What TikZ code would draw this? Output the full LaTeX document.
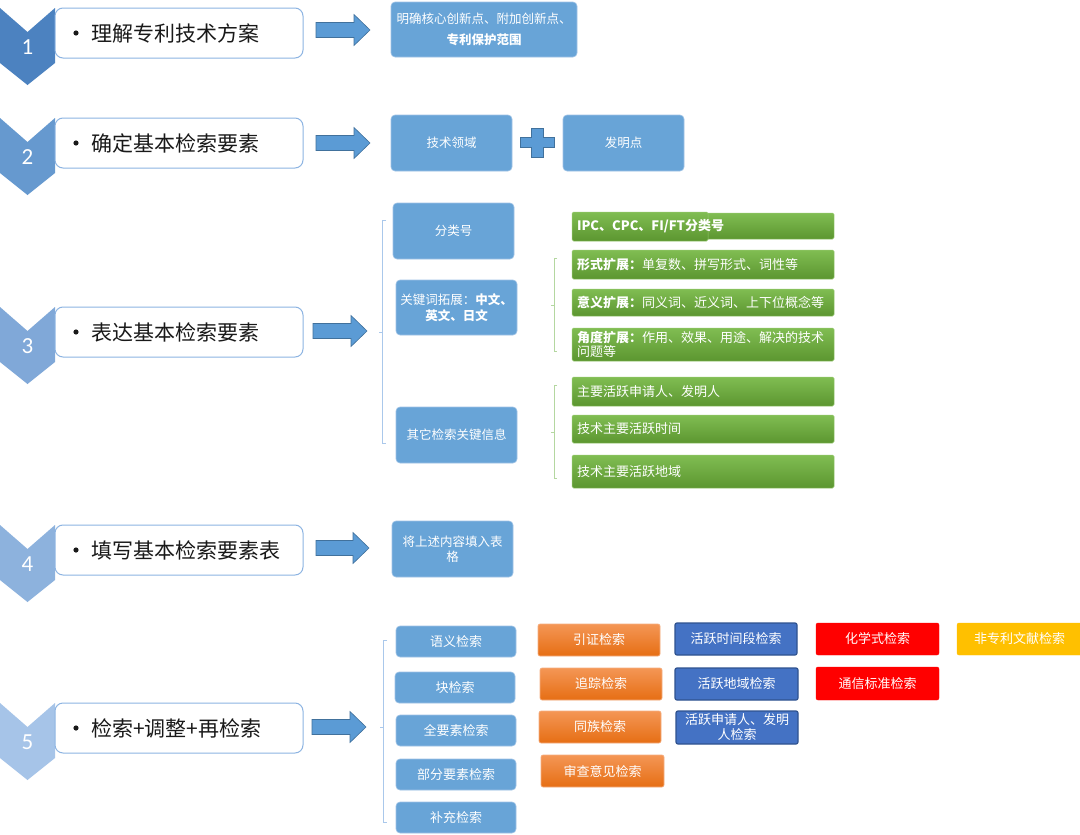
\documentclass[tikz,border=0pt]{standalone}
\usepackage{fontspec}
\setmainfont{Noto Sans CJK SC}
\newfontfamily\numfont{Carlito}
\definecolor{c1}{RGB}{76,130,192}
\definecolor{c2}{RGB}{102,153,207}
\definecolor{c3}{RGB}{128,168,216}
\definecolor{c4}{RGB}{141,178,221}
\definecolor{c5}{RGB}{166,196,232}
\definecolor{mainedge}{RGB}{141,180,226}
\definecolor{lblue}{RGB}{104,164,215}
\definecolor{lblueedge}{RGB}{160,195,230}
\definecolor{arrfill}{RGB}{91,155,213}
\definecolor{arredge}{RGB}{65,113,156}
\definecolor{gtop}{RGB}{128,189,82}
\definecolor{gbot}{RGB}{92,150,48}
\definecolor{gedge}{RGB}{150,200,110}
\definecolor{lbrk}{RGB}{170,200,235}
\definecolor{gbrkc}{RGB}{180,215,160}
\definecolor{otop}{RGB}{244,150,85}
\definecolor{obot}{RGB}{230,110,20}
\definecolor{oedge}{RGB}{245,175,130}
\definecolor{dblue}{RGB}{68,114,196}
\definecolor{dbedge}{RGB}{47,82,143}
\definecolor{ylw}{RGB}{255,192,0}
\definecolor{rd}{RGB}{255,0,0}
\newcommand\rbox[7]{\node[#6,minimum width={#4pt-#2pt},minimum height={#5pt-#3pt}] (#1) at ({(#2+#4)/2},{(#3+#5)/2}) {#7};}
\newcommand\chevron[4]{%
  \fill[#3] (0,#2) -- (27.5,{#2+24}) -- (55,#2) -- (55,{#2+55}) -- (27.5,{#2+77}) -- (0,{#2+55}) -- cycle;
  \node[numtxt] (#1) at (27.5,{#2+39}) {#4};}
\newcommand\blockarrow[3]{%
  \draw[barrow] (#1,{#3-7.5}) -- ({#2-16},{#3-7.5}) -- ({#2-16},{#3-15.5}) -- (#2,#3) -- ({#2-16},{#3+15.5}) -- ({#2-16},{#3+7.5}) -- (#1,{#3+7.5}) -- cycle;}
\begin{document}
\begin{tikzpicture}[x=1pt,y=-1pt,
 mainbox/.style={draw=mainedge,line width=1pt,fill=white,rounded corners=8pt,inner sep=0pt},
 bluebox/.style={fill=lblue,draw=lblueedge,line width=0.6pt,rounded corners=4pt,inner sep=1pt,text=white,align=center,font=\fontsize{12.5}{15}\selectfont},
 greenbar/.style={top color=gtop,bottom color=gbot,draw=gedge,line width=0.5pt,rounded corners=1.5pt,inner xsep=5pt,inner ysep=0pt,text=white,align=left,text width=252pt,font=\fontsize{13}{14}\selectfont},
 orbox/.style={top color=otop,bottom color=obot,draw=oedge,line width=0.6pt,rounded corners=2pt,text=white,align=center,font=\fontsize{13}{15}\selectfont,inner sep=1pt},
 dbbox/.style={fill=dblue,draw=dbedge,line width=1.2pt,rounded corners=2pt,text=white,align=center,font=\fontsize{13}{15}\selectfont,inner sep=1pt},
 redbox/.style={fill=rd,draw=rd,rounded corners=2pt,text=white,align=center,font=\fontsize{13}{15}\selectfont,inner sep=1pt},
 ylbox/.style={fill=ylw,draw=ylw,rounded corners=2pt,text=white,align=center,font=\fontsize{13}{15}\selectfont,inner sep=1pt},
 barrow/.style={fill=arrfill,draw=arredge,line width=0.6pt},
 brk/.style={draw=lbrk,line width=0.8pt},
 gbrk/.style={draw=gbrkc,line width=0.8pt},
 numtxt/.style={text=white,font=\numfont\fontsize{23}{23}\selectfont,inner sep=0pt},
 maintxt/.style={anchor=west,font=\fontsize{21}{24}\selectfont,text=black!90,inner sep=0pt}
]
\useasboundingbox[fill=white] (0,0) rectangle (1080,835);

% ---- chevrons and main boxes
\chevron{n1}{8}{c1}{1}
\chevron{n2}{118}{c2}{2}
\chevron{n3}{307}{c3}{3}
\chevron{n4}{525}{c4}{4}
\chevron{n5}{703}{c5}{5}

\rbox{b1}{55}{8}{303}{58}{mainbox}{}
\rbox{b2}{55}{118}{303}{168}{mainbox}{}
\rbox{b3}{55}{307}{303}{357}{mainbox}{}
\rbox{b4}{55}{525}{303}{575}{mainbox}{}
\rbox{b5}{55}{703}{303}{753}{mainbox}{}

\foreach \yy in {33,143,332,550,728} {\fill[black!90] (76,\yy) circle (2.6);}
\node[maintxt] (t1) at (91,33) {理解专利技术方案};
\node[maintxt] (t2) at (91,143) {确定基本检索要素};
\node[maintxt] (t3) at (91,332) {表达基本检索要素};
\node[maintxt] (t4) at (91,550) {填写基本检索要素表};
\node[maintxt] (t5) at (91,728) {检索+调整+再检索};

% ---- block arrows
\blockarrow{316}{370}{30}
\blockarrow{316}{370}{143}
\blockarrow{313}{367}{331}
\blockarrow{316}{369}{548}
\blockarrow{312}{366}{727}

% ---- row 1
\rbox{r1}{391}{2}{577}{57}{bluebox,font=\fontsize{12.5}{21}\selectfont}{明确核心创新点、附加创新点、\\\textbf{专利保护范围}}

% ---- row 2
\rbox{r2a}{391}{115}{512}{171}{bluebox}{技术领域}
\draw[barrow] (531.5,128) -- (543,128) -- (543,137.5) -- (554,137.5) -- (554,147.5) -- (543,147.5) -- (543,157) -- (531.5,157) -- (531.5,147.5) -- (520,147.5) -- (520,137.5) -- (531.5,137.5) -- cycle;
\rbox{r2b}{563}{115}{684}{171}{bluebox}{发明点}

% ---- row 3
\draw[brk] (386,220) -- (382,220) -- (382,443) -- (386,443);
\draw[brk] (382,332) -- (379,332);
\rbox{k1}{393}{203}{514}{259}{bluebox}{分类号}
\rbox{k2}{396}{280}{517}{335}{bluebox,font=\fontsize{12.5}{16}\selectfont}{关键词拓展：\textbf{中文、}\\\textbf{英文、日文}}
\rbox{k3}{396}{407}{517}{463}{bluebox}{其它检索关键信息}

\draw[gbrk] (557,258) -- (554,258) -- (554,351) -- (557,351);
\draw[gbrk] (554,305) -- (551,305);
\draw[gbrk] (557,385) -- (554,385) -- (554,478) -- (557,478);
\draw[gbrk] (554,432) -- (551,432);

\rbox{g1b}{700}{213}{834}{239}{greenbar,text width=120pt}{}
\rbox{g1}{572}{212}{708}{241}{greenbar,text width=126pt}{\textbf{IPC、CPC、FI/FT分类号}}
\rbox{g2}{572}{250}{834}{279}{greenbar}{\textbf{形式扩展：}单复数、拼写形式、词性等}
\rbox{g3}{572}{289}{834}{316}{greenbar}{\textbf{意义扩展：}同义词、近义词、上下位概念等}
\rbox{g4}{572}{328}{834}{361}{greenbar}{\textbf{角度扩展：}作用、效果、用途、解决的技术\\问题等}
\rbox{g5}{572}{377}{834}{406}{greenbar}{主要活跃申请人、发明人}
\rbox{g6}{572}{415}{834}{443}{greenbar}{技术主要活跃时间}
\rbox{g7}{572}{455}{834}{488}{greenbar}{技术主要活跃地域}

% ---- row 4
\rbox{r4}{392}{521}{513}{577}{bluebox}{将上述内容填入表\\格}

% ---- row 5
\draw[brk] (387,640) -- (383,640) -- (383,822) -- (387,822);
\draw[brk] (383,727) -- (380,727);
\rbox{s1}{396}{626}{516}{657}{bluebox,font=\fontsize{13}{15}\selectfont}{语义检索}
\rbox{s2}{395}{672}{515}{703}{bluebox,font=\fontsize{13}{15}\selectfont}{块检索}
\rbox{s3}{396}{715}{516}{746}{bluebox,font=\fontsize{13}{15}\selectfont}{全要素检索}
\rbox{s4}{396}{759}{516}{790}{bluebox,font=\fontsize{13}{15}\selectfont}{部分要素检索}
\rbox{s5}{396}{802}{516}{833}{bluebox,font=\fontsize{13}{15}\selectfont}{补充检索}

\rbox{o1}{538}{624}{660}{656}{orbox}{引证检索}
\rbox{o2}{540}{668}{662}{700}{orbox}{追踪检索}
\rbox{o3}{539}{711}{661}{743}{orbox}{同族检索}
\rbox{o4}{541}{755}{664}{787}{orbox}{审查意见检索}

\rbox{d1}{675}{623}{797}{655}{dbbox}{活跃时间段检索}
\rbox{d2}{675}{668}{798}{700}{dbbox}{活跃地域检索}
\rbox{d3}{676}{711}{798}{744}{dbbox}{活跃申请人、发明\\人检索}

\rbox{e1}{816}{623}{939}{655}{redbox}{化学式检索}
\rbox{e2}{816}{667}{939}{700}{redbox}{通信标准检索}

\rbox{y1}{957}{623}{1082}{655}{ylbox}{非专利文献检索}
\end{tikzpicture}
\end{document}
